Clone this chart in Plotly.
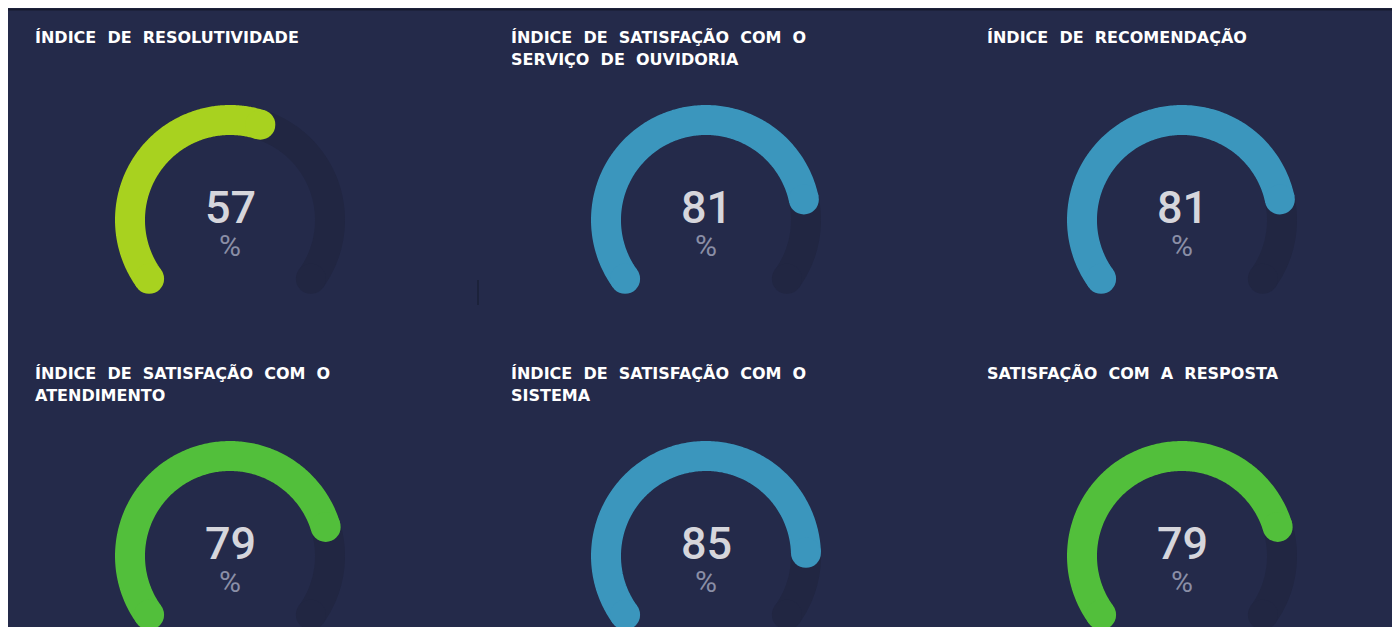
import numpy as np
import plotly.graph_objects as go

# Gauge data
titles = [
    ["ÍNDICE DE RESOLUTIVIDADE"],
    ["ÍNDICE DE SATISFAÇÃO COM O", "SERVIÇO DE OUVIDORIA"],
    ["ÍNDICE DE RECOMENDAÇÃO"],
    ["ÍNDICE DE SATISFAÇÃO COM O", "ATENDIMENTO"],
    ["ÍNDICE DE SATISFAÇÃO COM O", "SISTEMA"],
    ["SATISFAÇÃO COM A RESPOSTA"],
]
values = [57, 81, 81, 79, 85, 79]
colors = ["#a8d21f", "#3b96bd", "#3b96bd", "#52bf3b", "#3b96bd", "#52bf3b"]

BG = "#242a4a"
TRACK = "#212642"

# layout (page pixels)
col_x = [230, 706, 1182]
row_y = [220, 556]
R = 100          # radius of arc centerline
W = 30           # arc thickness
START = 216      # degrees, math convention
SWEEP = 252


def arc(cx, cy, frac):
    ang = np.radians(np.linspace(START, START - SWEEP * frac, 240))
    return cx + R * np.cos(ang), cy - R * np.sin(ang)


fig = go.Figure()
annotations = []

for i, (title, val, col) in enumerate(zip(titles, values, colors)):
    cx = col_x[i % 3]
    cy = row_y[i // 3]

    # background track
    tx, ty = arc(cx, cy, 1.0)
    fig.add_trace(go.Scatter(x=tx, y=ty, mode="lines",
                             line=dict(color=TRACK, width=W, simplify=False),
                             hoverinfo="skip"))
    fig.add_trace(go.Scatter(x=[tx[0], tx[-1]], y=[ty[0], ty[-1]], mode="markers",
                             marker=dict(color=TRACK, size=W, line=dict(width=0)),
                             hoverinfo="skip"))

    # value arc
    vx, vy = arc(cx, cy, val / 100)
    fig.add_trace(go.Scatter(x=vx, y=vy, mode="lines",
                             line=dict(color=col, width=W, simplify=False),
                             hoverinfo="skip"))
    fig.add_trace(go.Scatter(x=[vx[0], vx[-1]], y=[vy[0], vy[-1]], mode="markers",
                             marker=dict(color=col, size=W, line=dict(width=0)),
                             hoverinfo="skip"))

    annotations.append(dict(x=cx, y=cy - 13, text=str(val), showarrow=False,
                            font=dict(family="Roboto", size=45, color="#d6d6dc",
                                      weight=500)))
    annotations.append(dict(x=cx, y=cy + 25, text="%", showarrow=False,
                            font=dict(family="Roboto", size=30, color="#8a8ea6")))

    for k, line in enumerate(title):
        annotations.append(dict(x=cx - 197, y=cy - 183 + 22 * k,
                                text=line.replace(" ", "\u00a0\u00a0"),
                                showarrow=False, xanchor="left", yanchor="middle",
                                font=dict(family="DejaVu Sans", size=16,
                                          color="#ffffff", weight="bold")))

fig.update_layout(
    width=1392,
    height=619,
    margin=dict(l=0, r=0, t=0, b=0),
    paper_bgcolor=BG,
    plot_bgcolor=BG,
    showlegend=False,
    annotations=annotations,
    xaxis=dict(range=[8, 1400], visible=False, fixedrange=True),
    yaxis=dict(range=[627, 8], visible=False, fixedrange=True),
    shapes=[
        dict(type="line", xref="x", yref="y", x0=8, x1=1400, y0=9.5, y1=9.5,
             line=dict(color="#161a2e", width=2)),
        dict(type="line", xref="x", yref="y", x0=478, x1=478, y0=280, y1=305,
             line=dict(color="#151a2c", width=1)),
    ],
)

fig.write_html("out.html")
